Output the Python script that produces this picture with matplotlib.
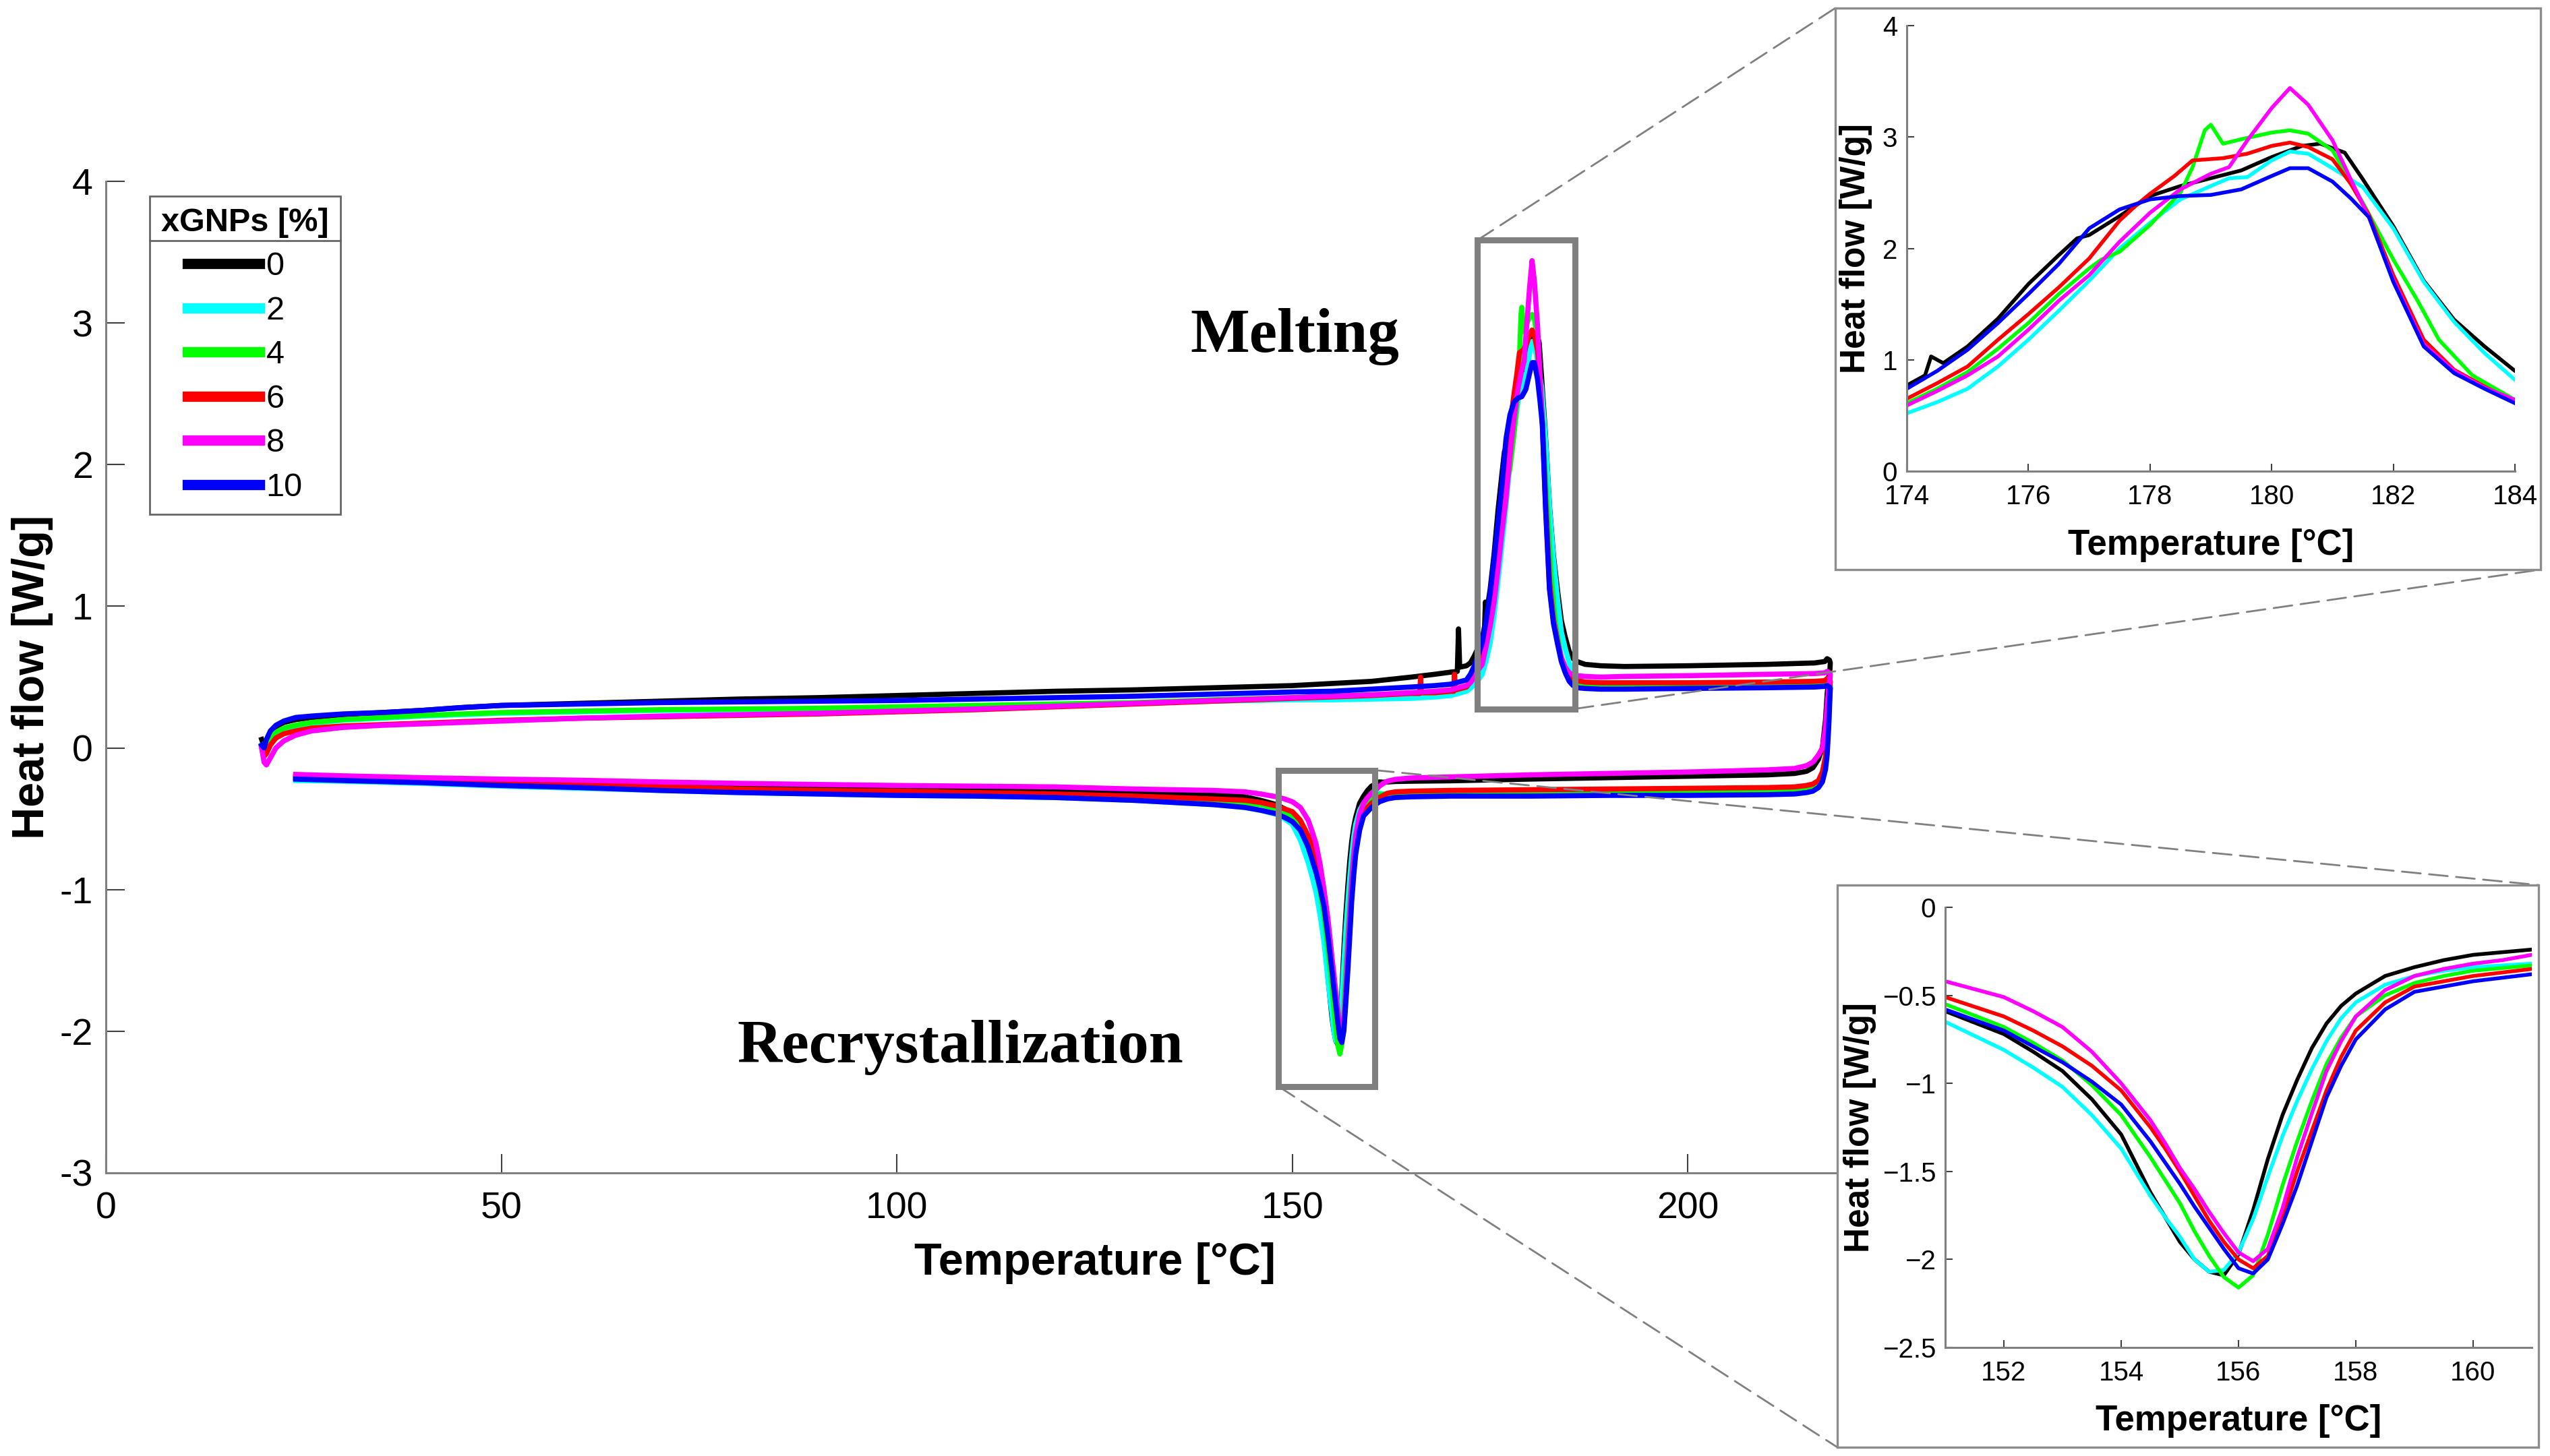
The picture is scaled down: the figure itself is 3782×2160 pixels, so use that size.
import numpy as np
import matplotlib
matplotlib.use('Agg')
import matplotlib.pyplot as plt
from matplotlib.patches import Rectangle, ConnectionPatch
from matplotlib.lines import Line2D

plt.rcParams['font.family'] = ['Liberation Sans', 'DejaVu Sans']
plt.rcParams['axes.unicode_minus'] = False

# legend labels (xGNPs %) and colours
labels = ['0', '2', '4', '6', '8', '10']
colors = ['#000000', '#00FFFF', '#00FF00', '#FF0000', '#FF00FF', '#0000FF']

# ---- heating run, baseline before the melting peak (shared temperatures)
HEAT_T = [19.7, 20.0, 20.3, 20.8, 21.5, 22.5, 24, 26, 30, 35, 40, 45, 50, 60, 70, 80,
          90, 100, 110, 120, 130, 140, 150, 155, 160, 165, 168, 170, 172, 172.5, 173, 173.5]
heat_0 = [0.06, 0.01, 0.05, 0.11, 0.15, 0.18, 0.20, 0.215, 0.235, 0.25, 0.265, 0.285, 0.30, 0.315, 0.33, 0.345,
          0.355, 0.37, 0.385, 0.40, 0.41, 0.425, 0.44, 0.455, 0.47, 0.50, 0.52, 0.535, 0.58, 0.60, 0.65, 0.71]
heat_2 = [0.02, -0.02, 0.02, 0.07, 0.105, 0.135, 0.155, 0.175, 0.195, 0.21, 0.225, 0.235, 0.245, 0.255, 0.265, 0.27,
          0.275, 0.285, 0.295, 0.305, 0.315, 0.33, 0.34, 0.34, 0.345, 0.35, 0.36, 0.37, 0.40, 0.42, 0.45, 0.48]
heat_4 = [0.02, -0.02, 0.02, 0.07, 0.11, 0.14, 0.16, 0.18, 0.20, 0.215, 0.23, 0.24, 0.25, 0.26, 0.27, 0.275,
          0.28, 0.29, 0.30, 0.31, 0.32, 0.34, 0.355, 0.365, 0.375, 0.385, 0.39, 0.40, 0.43, 0.46, 0.51, 0.56]
heat_6 = [0.0, -0.06, -0.04, 0.02, 0.07, 0.10, 0.12, 0.14, 0.155, 0.165, 0.175, 0.185, 0.195, 0.21, 0.22, 0.23,
          0.24, 0.255, 0.27, 0.29, 0.31, 0.33, 0.35, 0.36, 0.37, 0.385, 0.39, 0.40, 0.43, 0.47, 0.53, 0.59]
heat_8 = [0.0, -0.10, -0.12, -0.07, 0.0, 0.05, 0.09, 0.12, 0.145, 0.16, 0.17, 0.18, 0.19, 0.21, 0.225, 0.235,
          0.245, 0.26, 0.275, 0.295, 0.315, 0.335, 0.355, 0.365, 0.375, 0.39, 0.40, 0.41, 0.44, 0.46, 0.50, 0.55]
heat_10 = [0.02, 0.0, 0.06, 0.12, 0.16, 0.19, 0.215, 0.225, 0.24, 0.25, 0.265, 0.285, 0.30, 0.31, 0.32, 0.325,
           0.33, 0.335, 0.345, 0.355, 0.365, 0.38, 0.395, 0.40, 0.415, 0.43, 0.44, 0.45, 0.48, 0.52, 0.58, 0.66]

# small spikes before melting
spike_T_0 = [170.85, 171.0, 171.15]
spike_0 = [0.54, 0.84, 0.57]
spike_T_6 = [166.1, 166.2, 166.3, 170.4, 170.5, 170.6]
spike_6 = [0.385, 0.50, 0.39, 0.40, 0.52, 0.41]

# ---- melting peak
melt_T_0 = [174.0, 174.3, 174.4, 174.6, 175.0, 175.5, 176.0, 176.5, 176.8, 177.0, 177.5, 178.0, 178.5,
            179.0, 179.5, 180.0, 180.5, 180.8, 181.2, 181.5, 182.0, 182.5, 183.0, 183.5, 184.0]
melt_0 = [0.77, 0.86, 1.03, 0.97, 1.12, 1.37, 1.68, 1.94, 2.09, 2.12, 2.29, 2.47, 2.56,
          2.63, 2.70, 2.82, 2.92, 2.94, 2.86, 2.62, 2.20, 1.71, 1.36, 1.12, 0.90]
melt_T_2 = [174.0, 174.5, 175.0, 175.5, 176.0, 176.5, 177.0, 177.5, 178.0, 178.5, 179.0, 179.3, 179.6,
            180.0, 180.3, 180.6, 181.0, 181.5, 182.0, 182.5, 183.0, 183.5, 184.0]
melt_2 = [0.52, 0.62, 0.74, 0.94, 1.18, 1.44, 1.71, 2.00, 2.23, 2.44, 2.56, 2.63, 2.64,
          2.79, 2.87, 2.85, 2.72, 2.55, 2.18, 1.70, 1.34, 1.06, 0.82]
melt_T_4 = [174.0, 174.5, 175.0, 175.5, 176.0, 176.5, 177.0, 177.2, 177.5, 178.0, 178.5, 178.7, 178.9,
            179.0, 179.2, 179.5, 180.0, 180.3, 180.6, 181.0, 181.5, 182.0, 182.4, 182.75, 183.3, 184.0]
melt_4 = [0.61, 0.74, 0.89, 1.10, 1.33, 1.59, 1.82, 1.90, 1.97, 2.21, 2.50, 2.73, 3.06,
          3.11, 2.94, 2.98, 3.04, 3.06, 3.03, 2.88, 2.41, 1.90, 1.53, 1.18, 0.86, 0.64]
melt_T_6 = [174.0, 174.5, 175.0, 175.5, 176.0, 176.5, 177.0, 177.5, 177.8, 178.0, 178.4, 178.7, 179.2,
            179.6, 180.0, 180.3, 180.6, 181.0, 181.3, 181.6, 182.0, 182.5, 183.0, 183.5, 184.0]
melt_6 = [0.65, 0.79, 0.94, 1.18, 1.41, 1.65, 1.91, 2.25, 2.40, 2.49, 2.65, 2.79, 2.81,
          2.85, 2.92, 2.95, 2.91, 2.80, 2.58, 2.30, 1.76, 1.18, 0.91, 0.76, 0.62]
melt_T_8 = [174.0, 174.5, 175.0, 175.5, 176.0, 176.5, 177.0, 177.5, 178.0, 178.5, 179.0, 179.3, 179.6,
            180.0, 180.3, 180.6, 181.0, 181.3, 181.6, 182.0, 182.5, 183.0, 183.5, 184.0]
melt_8 = [0.59, 0.72, 0.86, 1.03, 1.27, 1.53, 1.76, 2.06, 2.32, 2.53, 2.67, 2.73, 2.97,
          3.26, 3.44, 3.29, 2.97, 2.62, 2.28, 1.72, 1.14, 0.90, 0.75, 0.64]
melt_T_10 = [174.0, 174.5, 175.0, 175.5, 176.0, 176.5, 177.0, 177.5, 178.0, 178.5, 179.0, 179.5, 180.0,
             180.3, 180.6, 181.0, 181.3, 181.6, 182.0, 182.5, 183.0, 183.5, 184.0]
melt_10 = [0.74, 0.90, 1.09, 1.33, 1.59, 1.86, 2.18, 2.35, 2.44, 2.47, 2.48, 2.53, 2.65,
           2.72, 2.72, 2.60, 2.45, 2.28, 1.70, 1.12, 0.88, 0.74, 0.61]

# ---- heating run after the peak, up to 218 C
TAIL_T = [184.5, 185.0, 185.5, 186.0, 187.0, 189.0, 192.0, 200.0, 210.0, 216.0, 217.3, 217.6, 217.9, 218.0]
tail_0 = [0.78, 0.68, 0.63, 0.61, 0.59, 0.58, 0.575, 0.58, 0.59, 0.60, 0.61, 0.63, 0.62, 0.60]
tail_2 = [0.70, 0.60, 0.53, 0.49, 0.46, 0.45, 0.445, 0.44, 0.44, 0.445, 0.45, 0.46, 0.45, 0.44]
tail_4 = [0.55, 0.50, 0.47, 0.455, 0.445, 0.44, 0.44, 0.44, 0.44, 0.445, 0.45, 0.46, 0.45, 0.44]
tail_6 = [0.55, 0.51, 0.49, 0.475, 0.465, 0.46, 0.46, 0.46, 0.465, 0.47, 0.475, 0.49, 0.48, 0.47]
tail_8 = [0.57, 0.53, 0.515, 0.51, 0.505, 0.50, 0.505, 0.51, 0.52, 0.525, 0.53, 0.54, 0.53, 0.52]
tail_10 = [0.53, 0.47, 0.44, 0.425, 0.42, 0.415, 0.415, 0.42, 0.425, 0.43, 0.435, 0.44, 0.43, 0.42]

# ---- cooling run, from 218 C down to the crystallization peak
COOL_HI_T = [217.95, 217.8, 217.6, 217.4, 217.0, 216.5, 215.8, 215.0, 213.5, 210.0, 200.0, 190.0,
             180.0, 170.0, 165.0, 163.0, 162.0, 161.5]
cool_hi_0 = [0.55, 0.50, 0.38, 0.20, 0.0, -0.08, -0.14, -0.165, -0.18, -0.19, -0.20, -0.21,
             -0.22, -0.232, -0.235, -0.237, -0.24, -0.242]
cool_hi_2 = [0.38, 0.18, 0.0, -0.12, -0.21, -0.255, -0.28, -0.29, -0.30, -0.305, -0.31, -0.31,
             -0.315, -0.315, -0.32, -0.32, -0.322, -0.325]
cool_hi_4 = [0.38, 0.18, 0.0, -0.12, -0.21, -0.255, -0.28, -0.29, -0.30, -0.305, -0.305, -0.31,
             -0.31, -0.31, -0.315, -0.32, -0.325, -0.33]
cool_hi_6 = [0.42, 0.25, 0.06, -0.06, -0.17, -0.23, -0.255, -0.265, -0.275, -0.28, -0.285, -0.29,
             -0.295, -0.30, -0.305, -0.31, -0.32, -0.335]
cool_hi_8 = [0.48, 0.42, 0.30, 0.15, 0.0, -0.05, -0.10, -0.125, -0.145, -0.155, -0.17, -0.18,
             -0.19, -0.205, -0.212, -0.222, -0.235, -0.25]
cool_hi_10 = [0.36, 0.15, -0.05, -0.15, -0.24, -0.28, -0.305, -0.315, -0.325, -0.33, -0.335, -0.335,
              -0.34, -0.34, -0.345, -0.35, -0.36, -0.37]

# ---- crystallization peak
CRYST_T = [161.0, 160.5, 160.0, 159.5, 159.0, 158.5, 158.0, 157.75, 157.5, 157.25, 157.0, 156.75, 156.5,
           156.25, 156.0, 155.75, 155.5, 155.25, 155.0, 154.75, 154.5, 154.0, 153.5, 153.0, 152.5, 152.0, 151.0]
cryst_0 = [-0.24, -0.255, -0.27, -0.30, -0.34, -0.39, -0.49, -0.56, -0.66, -0.80, -0.98, -1.18, -1.43,
           -1.72, -1.97, -2.09, -2.07, -2.00, -1.90, -1.76, -1.62, -1.29, -1.09, -0.93, -0.82, -0.72, -0.59]
cryst_2 = [-0.32, -0.33, -0.34, -0.36, -0.39, -0.44, -0.54, -0.63, -0.76, -0.92, -1.10, -1.30, -1.53,
           -1.77, -1.96, -2.06, -2.07, -2.00, -1.87, -1.76, -1.64, -1.37, -1.18, -1.02, -0.91, -0.81, -0.65]
cryst_4 = [-0.33, -0.345, -0.36, -0.39, -0.43, -0.50, -0.62, -0.74, -0.89, -1.10, -1.33, -1.58, -1.86,
           -2.09, -2.16, -2.10, -1.98, -1.84, -1.68, -1.55, -1.42, -1.18, -1.01, -0.87, -0.77, -0.68, -0.55]
cryst_6 = [-0.35, -0.37, -0.39, -0.42, -0.45, -0.54, -0.70, -0.85, -1.04, -1.27, -1.50, -1.76, -1.98,
           -2.05, -2.00, -1.90, -1.78, -1.64, -1.50, -1.37, -1.25, -1.04, -0.90, -0.79, -0.70, -0.62, -0.51]
cryst_8 = [-0.27, -0.30, -0.32, -0.35, -0.39, -0.47, -0.62, -0.76, -0.93, -1.17, -1.42, -1.71, -1.94,
           -2.01, -1.96, -1.85, -1.73, -1.60, -1.48, -1.34, -1.21, -1.00, -0.82, -0.68, -0.59, -0.51, -0.42]
cryst_10 = [-0.38, -0.40, -0.42, -0.45, -0.48, -0.58, -0.75, -0.90, -1.08, -1.33, -1.58, -1.80, -2.00,
            -2.08, -2.05, -1.94, -1.82, -1.70, -1.57, -1.45, -1.33, -1.12, -0.99, -0.88, -0.79, -0.70, -0.58]

# ---- cooling run below the peak, down to 24 C
COOL_LO_T = [150.0, 149.0, 148.0, 146.0, 144.0, 140.0, 130.0, 120.0, 110.0, 100.0, 90.0, 80.0,
             70.0, 60.0, 50.0, 40.0, 30.0, 24.0]
cool_lo_0 = [-0.50, -0.43, -0.40, -0.37, -0.345, -0.33, -0.315, -0.30, -0.295, -0.29, -0.29, -0.28,
             -0.27, -0.255, -0.245, -0.23, -0.215, -0.205]
cool_lo_2 = [-0.54, -0.50, -0.47, -0.44, -0.42, -0.40, -0.37, -0.35, -0.34, -0.335, -0.325, -0.315,
             -0.30, -0.285, -0.27, -0.25, -0.235, -0.23]
cool_lo_4 = [-0.48, -0.45, -0.43, -0.40, -0.39, -0.37, -0.35, -0.335, -0.325, -0.315, -0.31, -0.30,
             -0.285, -0.27, -0.255, -0.24, -0.225, -0.215]
cool_lo_6 = [-0.45, -0.43, -0.41, -0.385, -0.37, -0.36, -0.34, -0.325, -0.315, -0.305, -0.30, -0.29,
             -0.275, -0.26, -0.25, -0.235, -0.22, -0.21]
cool_lo_8 = [-0.38, -0.36, -0.345, -0.325, -0.31, -0.30, -0.29, -0.275, -0.27, -0.265, -0.258, -0.25,
             -0.24, -0.228, -0.22, -0.21, -0.197, -0.187]
cool_lo_10 = [-0.52, -0.49, -0.465, -0.44, -0.42, -0.40, -0.37, -0.35, -0.34, -0.335, -0.325, -0.315,
              -0.30, -0.28, -0.265, -0.245, -0.23, -0.22]

heat_y = [heat_0, heat_2, heat_4, heat_6, heat_8, heat_10]
spikes_T = [spike_T_0, [], [], spike_T_6, [], []]
spikes_y = [spike_0, [], [], spike_6, [], []]
melt_T = [melt_T_0, melt_T_2, melt_T_4, melt_T_6, melt_T_8, melt_T_10]
melt_y = [melt_0, melt_2, melt_4, melt_6, melt_8, melt_10]
tail_y = [tail_0, tail_2, tail_4, tail_6, tail_8, tail_10]
cool_hi_y = [cool_hi_0, cool_hi_2, cool_hi_4, cool_hi_6, cool_hi_8, cool_hi_10]
cryst_y = [cryst_0, cryst_2, cryst_4, cryst_6, cryst_8, cryst_10]
cool_lo_y = [cool_lo_0, cool_lo_2, cool_lo_4, cool_lo_6, cool_lo_8, cool_lo_10]


def curve(k):
    th = np.array(HEAT_T + spikes_T[k])
    yh = np.array(heat_y[k] + spikes_y[k])
    o = np.argsort(th)
    T = np.concatenate([th[o], melt_T[k], TAIL_T, COOL_HI_T, CRYST_T, COOL_LO_T])
    Y = np.concatenate([yh[o], melt_y[k], tail_y[k], cool_hi_y[k], cryst_y[k], cool_lo_y[k]])
    return T, Y


W, H = 3782, 2160
fig = plt.figure(figsize=(W / 100, H / 100), dpi=100)


def fx(px):
    return px / W


def fy(py):
    return 1 - py / H


GREY = '#808080'

#main plot
ax = fig.add_axes([fx(157), fy(1740), (3090 - 157) / W, (1740 - 269) / H])
lines = []
for k in range(6):
    T, Y = curve(k)
    ln, = ax.plot(T, Y, color=colors[k], lw=5.5, label=labels[k], solid_joinstyle='round')
    lines.append(ln)
ax.set_xlim(0, 250)
ax.set_ylim(-3, 4)
ax.set_xticks([0, 50, 100, 150, 200, 250])
ax.set_yticks(range(-3, 5))
for s in ['top', 'right']:
    ax.spines[s].set_visible(False)
for s in ['left', 'bottom']:
    ax.spines[s].set_color(GREY)
    ax.spines[s].set_linewidth(2.2)
ax.tick_params(direction='in', length=20, width=1.5, color='#404040', labelsize=40)
ax.tick_params(axis='x', pad=20)
ax.tick_params(axis='y', pad=14)
ax.set_xlabel('Temperature [°C]', fontsize=48, fontweight='bold')
ax.xaxis.set_label_coords(0.5, -0.070)
ax.set_ylabel('Heat flow [W/g]', fontsize=48, fontweight='bold')
ax.yaxis.set_label_coords(-0.0266, 0.5)

ax.text(150.3, 2.795, 'Melting', fontsize=67, family=['Liberation Serif', 'DejaVu Serif'],
        fontweight='bold', ha='center', va='baseline')
ax.text(108.0, -2.219, 'Recrystallization', fontsize=66, family=['Liberation Serif', 'DejaVu Serif'],
        fontweight='bold', ha='center', va='baseline')

# zoom boxes on the main plot
ax.add_patch(Rectangle((173.4, 0.276), 12.3, 3.309, fill=False, edgecolor=GREY, lw=6.5, zorder=10))
ax.add_patch(Rectangle((148.25, -2.39), 12.2, 2.233, fill=False, edgecolor=GREY, lw=6.5, zorder=10))

leg = ax.legend(lines, labels, loc='upper left', bbox_to_anchor=(fx(222), fy(291)),
                bbox_transform=fig.transFigure, title='xGNPs [%]', fontsize=35,
                title_fontproperties={'weight': 'bold', 'size': 35}, frameon=True, fancybox=False,
                edgecolor='#666666', framealpha=1, borderaxespad=0, handlelength=2.2,
                handletextpad=0.2, labelspacing=0.42, borderpad=0.35)
leg.get_frame().set_linewidth(2)
for h in leg.legend_handles:
    h.set_linewidth(11)

# panels behind the insets
fig.add_artist(Rectangle((fx(2722), fy(845)), (3768 - 2722) / W, (845 - 12) / H, transform=fig.transFigure,
                         facecolor='white', edgecolor='#8c8c8c', lw=2.4, zorder=5))
fig.add_artist(Rectangle((fx(2725), fy(2147)), (3765 - 2725) / W, (2147 - 1313) / H, transform=fig.transFigure,
                         facecolor='white', edgecolor='#8c8c8c', lw=2.4, zorder=5))

# dashed connectors
conns = [((173.4, 3.585), (2722, 12)), ((185.7, 0.276), (3768, 845)),
         ((160.45, -0.157), (3765, 1313)), ((148.25, -2.39), (2725, 2147))]
for a, b in conns:
    cp = ConnectionPatch(xyA=a, xyB=(fx(b[0]), fy(b[1])), coordsA='data', coordsB='figure fraction',
                         axesA=ax, color=GREY, lw=2, linestyle=(0, (10, 4.5)), zorder=4)
    fig.add_artist(cp)


def style_inset(a):
    a.set_facecolor('none')
    for s in ['top', 'right']:
        a.spines[s].set_visible(False)
    for s in ['left', 'bottom']:
        a.spines[s].set_color(GREY)
        a.spines[s].set_linewidth(2.2)
    a.tick_params(direction='in', length=8, width=1.5, color='#404040', labelsize=29)
    a.tick_params(axis='x', pad=14)
    a.tick_params(axis='y', pad=10)


#inset: melting
ax1 = fig.add_axes([fx(2828), fy(699), (3730 - 2828) / W, (699 - 38) / H], zorder=6)
for k in range(6):
    T, Y = curve(k)
    ax1.plot(T, Y, color=colors[k], lw=4, solid_joinstyle='round')
ax1.set_xlim(174, 184)
ax1.set_ylim(0, 4)
ax1.set_xticks([174, 176, 178, 180, 182, 184])
ax1.set_yticks([0, 1, 2, 3, 4])
style_inset(ax1)
ax1.set_xlabel('Temperature [°C]', fontsize=38, fontweight='bold')
ax1.xaxis.set_label_coords(0.5, -0.1286)
ax1.set_ylabel('Heat flow [W/g]', fontsize=37, fontweight='bold')
ax1.yaxis.set_label_coords(-0.0565, 0.5)

#inset: recrystallization
ax2 = fig.add_axes([fx(2885), fy(1999), (3755 - 2885) / W, (1999 - 1346) / H], zorder=6)
for k in range(6):
    T, Y = curve(k)
    ax2.plot(T, Y, color=colors[k], lw=4, solid_joinstyle='round')
ax2.set_xlim(151, 161)
ax2.set_ylim(-2.5, 0)
ax2.set_xticks([152, 154, 156, 158, 160])
ax2.set_yticks([-2.5, -2, -1.5, -1, -0.5, 0])
ax2.set_yticklabels(['\u22122.5', '\u22122', '\u22121.5', '\u22121', '\u22120.5', '0'])
style_inset(ax2)
ax2.set_xlabel('Temperature [°C]', fontsize=38, fontweight='bold')
ax2.xaxis.set_label_coords(0.5, -0.1286)
ax2.set_ylabel('Heat flow [W/g]', fontsize=37, fontweight='bold')
ax2.yaxis.set_label_coords(-0.117, 0.5)

# separator line under the legend title
fig.canvas.draw()
bb = leg.get_window_extent()
tb = leg.get_title().get_window_extent()
ysep = (tb.y0 - 4) / H
fig.add_artist(Line2D([bb.x0 / W, bb.x1 / W], [ysep, ysep], transform=fig.transFigure,
                      color='#666666', lw=2, zorder=7))

fig.savefig('out.png', dpi=100)
